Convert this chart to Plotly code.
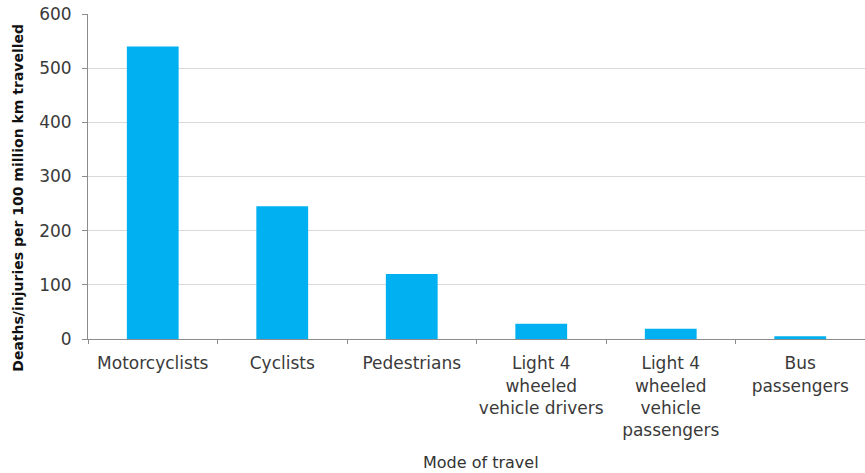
import plotly.graph_objects as go

# Injury rates by mode of travel
modes = [
    "Motorcyclists",
    "Cyclists",
    "Pedestrians",
    "Light 4<br>wheeled<br>vehicle drivers",
    "Light 4<br>wheeled<br>vehicle<br>passengers",
    "Bus<br>passengers",
]
rates = [540, 245, 120, 28, 19, 5]
y_ticks = [0, 100, 200, 300, 400, 500, 600]

y_title = "Deaths/injuries per 100 million km travelled"
x_title = "Mode of travel"

FONT = "DejaVu Sans, Verdana, sans-serif"

fig = go.Figure(
    go.Bar(
        x=modes,
        y=rates,
        marker=dict(color="#00b0f0", line=dict(width=0)),
        width=0.4,
    )
)

fig.update_layout(
    width=865,
    height=473,
    margin=dict(l=88, r=0, t=14, b=134),
    paper_bgcolor="white",
    plot_bgcolor="white",
    font=dict(family=FONT, size=17, color="#3a3a3a"),
    showlegend=False,
    bargap=0.6,
)

fig.update_xaxes(
    showline=True,
    linecolor="#8c8c8c",
    linewidth=1,
    ticks="outside",
    tickson="boundaries",
    ticklen=4,
    tickcolor="#8c8c8c",
    showgrid=False,
    tickangle=0,
    automargin=False,
    ticklabelstandoff=9,
    tickfont=dict(family=FONT, size=17, color="#3a3a3a"),
)

fig.update_yaxes(
    range=[0, 600],
    tickvals=y_ticks,
    showline=True,
    linecolor="#8c8c8c",
    linewidth=1,
    ticks="outside",
    ticklen=5,
    tickcolor="#8c8c8c",
    showgrid=True,
    gridcolor="#d9d9d9",
    gridwidth=1,
    zeroline=False,
    automargin=False,
    ticklabelstandoff=7,
    tickfont=dict(family=FONT, size=17, color="#3a3a3a"),
)

# Axis titles placed as annotations so they can sit off-centre
fig.add_annotation(
    text=f"<b>{y_title}</b>",
    textangle=-90,
    xref="paper", yref="paper",
    x=-0.09, y=0.435,
    xanchor="center", yanchor="middle",
    showarrow=False,
    font=dict(family=FONT, size=14, color="#111111"),
)
fig.add_annotation(
    text=x_title,
    xref="paper", yref="paper",
    x=0.506, y=-0.38,
    xanchor="center", yanchor="middle",
    showarrow=False,
    font=dict(family=FONT, size=16, color="#333333"),
)

fig.write_html("out.html")
